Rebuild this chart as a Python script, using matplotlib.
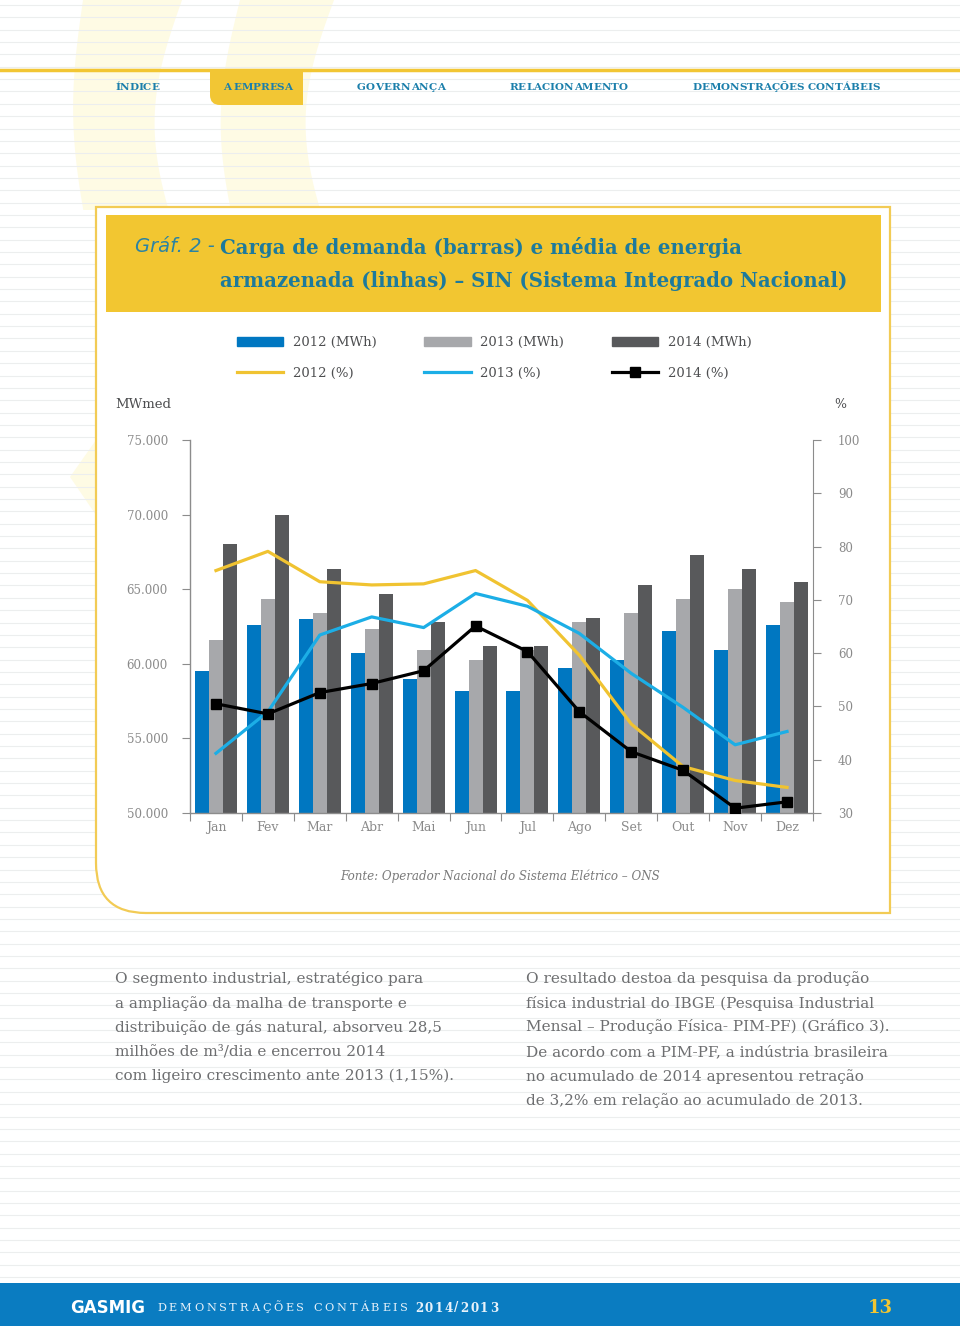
import matplotlib
matplotlib.use("Agg")
import matplotlib.pyplot as plt
from matplotlib.patches import Rectangle, PathPatch, Polygon, Patch
from matplotlib.path import Path
from matplotlib.lines import Line2D
import numpy as np

# ---------------- data ----------------
months = ["Jan", "Fev", "Mar", "Abr", "Mai", "Jun", "Jul", "Ago", "Set", "Out", "Nov", "Dez"]
mwh_2012 = [59540, 62600, 63000, 60700, 59000, 58200, 58200, 59700, 60270, 62200, 60940, 62570]
mwh_2013 = [61600, 64350, 63400, 62350, 60950, 60270, 60900, 62770, 63400, 64350, 65020, 64170]
mwh_2014 = [68000, 70000, 66350, 64700, 62800, 61200, 61200, 63100, 65290, 67270, 66350, 65510]
pct_2012 = [75.5, 79.1, 73.4, 72.8, 73.0, 75.5, 69.9, 59.6, 46.7, 38.7, 36.1, 34.8]
pct_2013 = [41.2, 49.0, 63.4, 66.8, 64.8, 71.2, 68.8, 63.7, 56.2, 49.8, 42.8, 45.3]
pct_2014 = [50.5, 48.6, 52.6, 54.3, 56.7, 65.1, 60.3, 49.0, 41.5, 38.0, 30.9, 32.1]
left_ticks = [50000, 55000, 60000, 65000, 70000, 75000]
right_ticks = [30, 40, 50, 60, 70, 80, 90, 100]
legend_labels = ["2012 (MWh)", "2012 (%)", "2013 (MWh)", "2013 (%)", "2014 (MWh)", "2014 (%)"]

title_prefix = "Gráf. 2 -"
title_l1 = "Carga de demanda (barras) e média de energia"
title_l2 = "armazenada (linhas) – SIN (Sistema Integrado Nacional)"
nav_items = ["ÍNDICE", "A EMPRESA", "GOVERNANÇA", "RELACIONAMENTO", "DEMONSTRAÇÕES CONTÁBEIS"]
source = "Fonte: Operador Nacional do Sistema Elétrico – ONS"
left_text = ["O segmento industrial, estratégico para",
             "a ampliação da malha de transporte e",
             "distribuição de gás natural, absorveu 28,5",
             "milhões de m³/dia e encerrou 2014",
             "com ligeiro crescimento ante 2013 (1,15%)."]
right_text = ["O resultado destoa da pesquisa da produção",
              "física industrial do IBGE (Pesquisa Industrial",
              "Mensal – Produção Física- PIM-PF) (Gráfico 3).",
              "De acordo com a PIM-PF, a indústria brasileira",
              "no acumulado de 2014 apresentou retração",
              "de 3,2% em relação ao acumulado de 2013."]

# ---------------- styles ----------------
C_BLUE = "#0077c1"
C_GRAY = "#a7a8ab"
C_DARK = "#58595b"
C_YEL = "#f0c331"
C_CYAN = "#1caee6"
C_TEAL = "#1d7a9c"
C_TXT = "#4d4e50"
C_TICK = "#8a8a8a"
SERIF = ["DejaVu Serif"]

W, H = 960, 1326
fig = plt.figure(figsize=(W / 100, H / 100), dpi=100)
bg = fig.add_axes([0, 0, 1, 1])
bg.set_xlim(0, W)
bg.set_ylim(H, 0)
bg.axis("off")
renderer = fig.canvas.get_renderer()


def text_width(s, **kw):
    t = bg.text(0, 0, s, **kw)
    w = t.get_window_extent(renderer=renderer).width
    t.remove()
    return w


def fit_text(x, y, s, target_w, size0=10, **kw):
    w = text_width(s, fontsize=size0, **kw)
    fs = size0 * target_w / w
    return bg.text(x, y, s, fontsize=fs, **kw), fs


def spaced_text(x0, x1, y, s, fontsize, **kw):
    ws = []
    for ch in s:
        if ch == " ":
            ws.append(0.33 * fontsize * 100 / 72)
        else:
            ws.append(text_width(ch, fontsize=fontsize, **kw))
    n = len(s)
    sp = (x1 - x0 - sum(ws)) / max(n - 1, 1)
    xx = x0
    for ch, w in zip(s, ws):
        if ch != " ":
            bg.text(xx, y, ch, fontsize=fontsize, ha="left", va="center", **kw)
        xx += w + sp


# ---------------- page background ----------------
pale = "#fefbe4"
t = np.linspace(0, 1, 40)
yb = 210 * t
outer1 = 83 - 12 * np.sin(np.pi * t * 0.9) + 4 * t
inner1 = 182 - 24 * np.sin(np.pi * t * 0.9) - 6 * t
bg.add_patch(Polygon(np.r_[np.c_[outer1, yb], np.c_[inner1, yb][::-1]], closed=True,
                     color=pale, zorder=0.2, lw=0))
outer2 = 240 - 17 * np.sin(np.pi * t * 0.9) - 4 * t
inner2 = 334 - 25 * np.sin(np.pi * t * 0.9) - 6 * t
bg.add_patch(Polygon(np.r_[np.c_[outer2, yb], np.c_[inner2, yb][::-1]], closed=True,
                     color=pale, zorder=0.2, lw=0))
bg.add_patch(Polygon([(96, 440), (70, 477), (96, 515)], closed=True, color=pale, zorder=0.2, lw=0))

for yy in np.arange(5, 1283, 12.35):
    bg.plot([0, W], [yy, yy], color="#eceeee", lw=0.8, zorder=0.4)

# top navigation
bg.plot([0, W], [70, 70], color="#f2c634", lw=2.5, zorder=2)
tab = Path([(210, 69), (303, 69), (303, 105), (220, 105), (210, 105), (210, 95), (210, 69)],
           [Path.MOVETO, Path.LINETO, Path.LINETO, Path.LINETO, Path.CURVE3, Path.CURVE3, Path.CLOSEPOLY])
bg.add_patch(PathPatch(tab, facecolor="#f2c634", edgecolor="none", zorder=2))
nav_x = [(115, 159), (223, 292), (357, 445), (509, 628), (692, 880)]
for s, (a, b) in zip(nav_items, nav_x):
    spaced_text(a, b, 87, s, 7.5, family=SERIF, weight="bold", color="#1b7fab", zorder=3)

# chart box
bx = Path([(96, 207), (890, 207), (890, 913), (146, 913), (96, 913), (96, 863), (96, 207)],
          [Path.MOVETO, Path.LINETO, Path.LINETO, Path.LINETO, Path.CURVE3, Path.CURVE3, Path.CLOSEPOLY])
bg.add_patch(PathPatch(bx, facecolor="white", edgecolor="#f2cb55", lw=1.6, zorder=1))
bg.add_patch(Rectangle((106, 215), 775, 97, facecolor="#f2c631", edgecolor="none", zorder=2))

_, tfs = fit_text(220, 281, title_l2, 627, size0=13, family=SERIF, weight="bold", color=C_TEAL,
                  ha="left", va="center", zorder=3)
bg.text(220, 247, title_l1, fontsize=tfs, family=SERIF, weight="bold", color=C_TEAL,
        ha="left", va="center", zorder=3)
fit_text(215, 246, title_prefix, 80, size0=14, family=["DejaVu Sans"], style="italic", weight="normal",
         color="#2b83a3", ha="right", va="center", zorder=3)

bg.text(115, 405, "MWmed", fontsize=9.5, family=SERIF, color=C_TXT, va="center", zorder=3)
bg.text(834, 405, "%", fontsize=9, family=SERIF, color=C_TXT, va="center", zorder=3)
bg.text(500, 876, source, fontsize=8.6, family=SERIF, style="italic", color="#7a7a7a",
        ha="center", va="center", zorder=3)

# body text
_, bfs = fit_text(526, 1027, right_text[2], 364, size0=10, family=SERIF, color="#6d6e70",
                  ha="left", va="center", zorder=3)
for i, s in enumerate(left_text):
    bg.text(115, 979 + i * 24.3, s, fontsize=bfs, family=SERIF, color="#6d6e70", ha="left", va="center", zorder=3)
for i, s in enumerate(right_text):
    if i == 2:
        continue
    bg.text(526, 979 + i * 24.3, s, fontsize=bfs, family=SERIF, color="#6d6e70", ha="left", va="center", zorder=3)

# footer
bg.add_patch(Rectangle((0, 1283), W, 43, facecolor="#0a7cc1", edgecolor="none", zorder=2))
fit_text(70, 1308, "GASMIG", 75, size0=12, family=["DejaVu Sans"], weight="bold", color="white",
         ha="left", va="center", zorder=3)
spaced_text(157, 408, 1308, "DEMONSTRAÇÕES CONTÁBEIS", 8.2, family=SERIF, color="#e8f2fa", zorder=3)
spaced_text(415, 498, 1308, "2014/2013", 8.6, family=SERIF, weight="bold", color="#e8f2fa", zorder=3)
bg.text(880, 1308, "13", fontsize=13, family=SERIF, weight="bold", color="#f2c631", ha="center",
        va="center", zorder=3)

# ---------------- chart ----------------
ax = fig.add_axes([190 / W, 1 - 813 / H, 623 / W, 373 / H])
ax.set_facecolor("none")
x = np.arange(len(months))
bw = 0.27
ax.bar(x - bw, mwh_2012, bw, color=C_BLUE, zorder=2)
ax.bar(x, mwh_2013, bw, color=C_GRAY, zorder=2)
ax.bar(x + bw, mwh_2014, bw, color=C_DARK, zorder=2)
ax.set_xlim(-0.5, 11.5)
ax.set_ylim(50000, 75000)
ax.set_yticks(left_ticks)
ax.set_yticklabels([f"{v:,}".replace(",", ".") for v in left_ticks])
ax.set_xticks(np.arange(-0.5, 12, 1))
ax.set_xticklabels([])
ax.set_xticks(x, minor=True)
ax.set_xticklabels(months, minor=True)
for s in ["top", "right"]:
    ax.spines[s].set_visible(False)
for s in ["left", "bottom"]:
    ax.spines[s].set_color("#8c8c8c")
    ax.spines[s].set_linewidth(1)
ax.tick_params(axis="y", direction="out", length=6, color="#8c8c8c", labelcolor=C_TICK, labelsize=8.5, pad=10)
ax.tick_params(axis="x", which="major", direction="out", length=6, color="#8c8c8c")
ax.tick_params(axis="x", which="minor", length=0, labelcolor=C_TICK, labelsize=9, pad=6)
for lab in ax.get_yticklabels() + ax.get_xticklabels(minor=True):
    lab.set_family(SERIF)

ax2 = ax.twinx()
ax2.plot(x, pct_2012, color=C_YEL, lw=2.3, zorder=3)
ax2.plot(x, pct_2013, color=C_CYAN, lw=2.3, zorder=3)
ax2.plot(x, pct_2014, color="black", lw=2.3, marker="s", ms=7, zorder=4)
ax2.set_ylim(30, 100)
ax2.set_yticks(right_ticks)
for s in ["top", "left", "bottom"]:
    ax2.spines[s].set_visible(False)
ax2.spines["right"].set_color("#8c8c8c")
ax2.tick_params(axis="y", direction="out", length=6, color="#8c8c8c", labelcolor=C_TICK, labelsize=8.5, pad=12)
for lab in ax2.get_yticklabels():
    lab.set_family(SERIF)

# legend
handles = [Patch(color=C_BLUE), Line2D([], [], color=C_YEL, lw=2.3),
           Patch(color=C_GRAY), Line2D([], [], color=C_CYAN, lw=2.3),
           Patch(color=C_DARK), Line2D([], [], color="black", lw=2.3, marker="s", ms=7)]
leg = fig.legend(handles, legend_labels, ncol=3, loc="upper left",
                 bbox_to_anchor=(237 / W, 1 - 336 / H), frameon=False, borderpad=0, borderaxespad=0,
                 handlelength=3.5, handleheight=0.75, handletextpad=0.75, columnspacing=3.6,
                 labelspacing=1.35, prop={"family": SERIF, "size": 9.5}, numpoints=1)
for tx in leg.get_texts():
    tx.set_color(C_TXT)

fig.savefig("out.png", dpi=100)
